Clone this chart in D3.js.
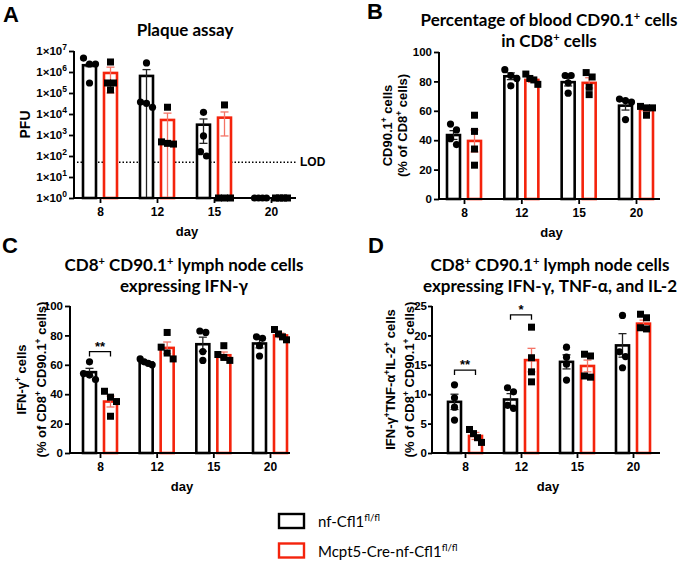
<!DOCTYPE html>
<html>
<head>
<meta charset="utf-8">
<script src="https://cdn.jsdelivr.net/npm/d3@7"></script>
<style>
  body { margin: 0; background: #fff; }
  svg text { font-family: "Liberation Sans", Arial, sans-serif; }
  .ttl { font-family: Lato, "Open Sans", sans-serif; font-weight: bold; font-size: 17px; }
  .axis text { font-weight: bold; font-size: 11.5px; fill: #000; }
  .axis line { stroke: #000; stroke-width: 1.8; }
  .lab { font-weight: bold; font-size: 12px; }
</style>
</head>
<body>
<svg id="chart" width="679" height="564"></svg>
<script>
var days = ["8", "12", "15", "20"];

// A - plaque assay (PFU, log axis)
var pfuTicks = [1, 10, 100, 1e3, 1e4, 1e5, 1e6, 1e7];
var pfuLOD = 50;
var pfuCtrlMean = [2.1e6, 6.5e5, 3.1e3, 1];
var pfuCtrlSem = [3e5, 6.5e5, 2.7e3, 0];
var pfuCtrlPts = [[4.6e6, 2.4e6, 2.4e6, 3e5], [2.7e6, 3.7e4, 3.2e4, 2.1e4], [1.2e4, 900, 160, 100], [1, 1, 1, 1]];
var pfuKoMean = [9e5, 5.2e3, 6.7e3, 1];
var pfuKoSem = [8e5, 5.8e3, 5.8e3, 0];
var pfuKoPts = [[3e6, 3e5, 3e5, 1.4e5], [2.1e4, 470, 400, 370], [2.7e4, 1, 1, 1], [1, 1, 1, 1]];

// B - blood CD90.1+ in CD8+
var bloodCtrlMean = [43.5, 83.5, 79.5, 63.5];
var bloodCtrlSem = [3, 2.3, 2.6, 3];
var bloodCtrlPts = [[51, 47, 41, 37], [88, 84, 82, 77], [84, 84, 79, 72], [68, 67, 66, 54]];
var bloodKoMean = [39.5, 81, 79, 61];
var bloodKoSem = [7.5, 1.6, 3.5, 1.3];
var bloodKoPts = [[57, 46, 34, 23], [85, 82, 81, 78], [86, 83, 76, 71], [63, 62, 62, 57]];

// C - IFN-g+ lymph node cells
var ifnCtrlMean = [55, 61.5, 74, 74.5];
var ifnCtrlSem = [2.6, 0.8, 4.8, 3];
var ifnCtrlPts = [[62, 54, 53, 50], [64, 62, 61, 60], [83, 82, 69, 63], [79, 78, 73, 66]];
var ifnKoMean = [35, 71.5, 66.5, 80];
var ifnKoSem = [3.7, 4, 2.2, 1.5];
var ifnKoPts = [[42, 38, 35, 25], [82, 72, 68, 64], [73, 67, 65, 63], [84, 81, 79, 77]];
var ifnSig = [{day: "8", y: 69, label: "**"}];

// D - IFN-g+ TNF-a+ IL-2+ lymph node cells
var triCtrlMean = [8.7, 9.1, 15.5, 18.3];
var triCtrlSem = [1.3, 1, 1.2, 2];
var triCtrlPts = [[11.6, 9.4, 7.8, 5.6], [11.1, 10.4, 8.1, 7.6], [18, 16.3, 15.1, 12.4], [23.4, 17.2, 16.4, 14.5]];
var triKoMean = [2.9, 15.8, 14.8, 22];
var triKoSem = [0.6, 2, 1, 0.6];
var triKoPts = [[4.0, 3.3, 2.6, 1.8], [21.4, 16.2, 13.8, 12.1], [16.8, 16.5, 13.1, 12.9], [23.6, 23, 21.3, 21.1]];
var triSig = [{day: "8", y: 14.1, label: "**"}, {day: "12", y: 23.5, label: "*"}];

var legendNames = ["nf-Cfl1{fl/fl}", "Mcpt5-Cre-nf-Cfl1{fl/fl}"];

var RED = "#f4230c";
var RED_ERR = "#f47466";
var svg = d3.select("#chart");

// text with {superscript} parts
function rich(sel, str, size) {
    str.split(/(\{[^}]*\})/).forEach(function(p) {
        if (!p) return;
        if (p[0] === "{") {
            sel.append("tspan").attr("baseline-shift", "super")
                .style("font-size", (size * 0.65) + "px").text(p.slice(1, -1));
        } else {
            sel.append("tspan").text(p);
        }
    });
}

function drawPanel(cfg) {
    var g = svg.append("g");
    var x = d3.scalePoint().domain(days).range([cfg.c0, cfg.c1]);
    var y = cfg.y;
    var off = 10.5, bw = 13;
    var base = y.range()[0];

    // LOD line
    if (cfg.lod) {
        g.append("line").attr("x1", cfg.x0 + 3).attr("x2", cfg.x1)
            .attr("y1", y(cfg.lod)).attr("y2", y(cfg.lod))
            .attr("stroke", "#000").attr("stroke-width", 1.4).attr("stroke-dasharray", "1.5,2");
        g.append("text").attr("class", "lab").attr("x", cfg.x1 + 4).attr("y", y(cfg.lod) + 4)
            .style("font-size", "12px").text("LOD");
    }

    var groups = [
        {mean: cfg.ctrlMean, sem: cfg.ctrlSem, pts: cfg.ctrlPts, dx: -off, col: "#000", err: "#222", shape: "circle"},
        {mean: cfg.koMean, sem: cfg.koSem, pts: cfg.koPts, dx: off, col: RED, err: RED_ERR, shape: "square"}
    ];

    groups.forEach(function(s) {
        g.append("g").selectAll("rect")
            .data(days)
            .enter()
            .append("rect")
            .attr("x", function(d) { return x(d) + s.dx - bw / 2; })
            .attr("width", bw)
            .attr("y", function(d, i) { return y(s.mean[i]); })
            .attr("height", function(d, i) { return base - y(s.mean[i]); })
            .attr("fill", "#fff")
            .attr("stroke", s.col)
            .attr("stroke-width", 2.6);
    });

    groups.forEach(function(s) {
        var eg = g.append("g").attr("stroke", s.err).attr("stroke-width", 1.3);
        days.forEach(function(d, i) {
            if (!s.sem[i]) return;
            var cx = x(d) + s.dx;
            var lo = Math.max(s.mean[i] - s.sem[i], y.domain()[0]);
            var hi = s.mean[i] + s.sem[i];
            eg.append("line").attr("x1", cx).attr("x2", cx).attr("y1", y(lo)).attr("y2", y(hi));
            eg.append("line").attr("x1", cx - 4).attr("x2", cx + 4).attr("y1", y(hi)).attr("y2", y(hi));
            if (lo > y.domain()[0]) {
                eg.append("line").attr("x1", cx - 4).attr("x2", cx + 4).attr("y1", y(lo)).attr("y2", y(lo));
            }
        });
    });

    // axes
    var yAxis = d3.axisLeft(y).tickValues(cfg.yTicks).tickSize(cfg.yTick || 5)
        .tickPadding(cfg.yPad || 2).tickSizeOuter(0);
    if (cfg.log) yAxis.tickFormat(function() { return ""; });
    var ya = g.append("g").attr("class", "axis")
        .attr("transform", "translate(" + cfg.x0 + ",0)")
        .call(yAxis);
    ya.select(".domain").remove();
    if (cfg.log) {
        ya.selectAll(".tick text").each(function(d) {
            var t = d3.select(this);
            t.append("tspan").text("1×10");
            t.append("tspan").attr("baseline-shift", "super").style("font-size", "8.5px")
                .text(Math.round(Math.log10(d)));
        });
    }
    g.append("line").attr("x1", cfg.x0).attr("x2", cfg.x0)
        .attr("y1", y.range()[1]).attr("y2", base + 1)
        .attr("stroke", "#000").attr("stroke-width", 2);

    var xa = g.append("g").attr("class", "axis")
        .attr("transform", "translate(0," + base + ")")
        .call(d3.axisBottom(x).tickSize(5).tickSizeOuter(0));
    xa.select(".domain").remove();
    xa.selectAll(".tick text").attr("y", 9).style("font-size", "12px");
    g.append("line").attr("x1", cfg.x0 - 1).attr("x2", cfg.x1)
        .attr("y1", base).attr("y2", base)
        .attr("stroke", "#000").attr("stroke-width", 2);

    // points
    groups.forEach(function(s) {
        var pg = g.append("g").attr("fill", "#000");
        days.forEach(function(d, i) {
            var vals = s.pts[i].slice().sort(function(a, b) { return b - a; });
            var py = vals.map(function(v) { return y(v); });
            // spread points that sit close together
            var clusters = [];
            py.forEach(function(p, k) {
                var last = clusters[clusters.length - 1];
                if (last && p - py[last[last.length - 1]] < 6) last.push(k);
                else clusters.push([k]);
            });
            clusters.forEach(function(c) {
                var step = c.length > 3 ? 4 : 6;
                c.forEach(function(k, j) {
                    var px = x(d) + s.dx + (j - (c.length - 1) / 2) * step;
                    if (s.shape === "circle") {
                        pg.append("circle").attr("cx", px).attr("cy", py[k]).attr("r", 3.6);
                    } else {
                        pg.append("rect").attr("x", px - 3.5).attr("y", py[k] - 3.5)
                            .attr("width", 7).attr("height", 7);
                    }
                });
            });
        });
    });

    // significance brackets
    (cfg.sig || []).forEach(function(s) {
        var xa1 = x(s.day) - off, xa2 = x(s.day) + off, yy = y(s.y);
        g.append("path")
            .attr("d", "M" + xa1 + "," + (yy + 5) + "V" + yy + "H" + xa2 + "V" + (yy + 5))
            .attr("fill", "none").attr("stroke", "#000").attr("stroke-width", 1.3);
        g.append("text").attr("class", "lab").attr("x", (xa1 + xa2) / 2).attr("y", yy - 1)
            .attr("text-anchor", "middle").style("font-size", "13px").text(s.label);
    });

    // labels
    g.append("text").attr("class", "lab").attr("x", (cfg.x0 + cfg.x1) / 2 + 2).attr("y", base + 38)
        .attr("text-anchor", "middle").style("font-size", "13px").text("day");

    var midY = (y.range()[0] + y.range()[1]) / 2;
    cfg.yLabel.forEach(function(l, k) {
        var t = g.append("text").attr("class", "lab")
            .attr("transform", "translate(" + cfg.yLabelX[k] + "," + midY + ") rotate(-90)")
            .attr("text-anchor", "middle").style("font-size", cfg.yLabelSize + "px");
        rich(t, l, cfg.yLabelSize);
    });

    cfg.title.forEach(function(l, k) {
        var t = g.append("text").attr("class", "ttl")
            .attr("x", cfg.titleX).attr("y", cfg.titleY + k * 21)
            .attr("text-anchor", "middle");
        rich(t, l, 17);
    });

    g.append("text").attr("x", cfg.letterX).attr("y", cfg.letterY)
        .style("font-weight", "bold").style("font-size", "22px").text(cfg.letter);
}

drawPanel({
    letter: "A", letterX: 3, letterY: 22,
    title: ["Plaque assay"], titleX: 185, titleY: 36,
    x0: 74, x1: 296, c0: 100, c1: 271,
    y: d3.scaleLog().domain([1, 1e7]).range([198, 51]), log: true, yTicks: pfuTicks,
    lod: pfuLOD,
    ctrlMean: pfuCtrlMean, ctrlSem: pfuCtrlSem, ctrlPts: pfuCtrlPts,
    koMean: pfuKoMean, koSem: pfuKoSem, koPts: pfuKoPts,
    yLabel: ["PFU"], yLabelX: [30], yLabelSize: 14
});

drawPanel({
    letter: "B", letterX: 367, letterY: 19,
    title: ["Percentage of blood CD90.1{+} cells", "in CD8{+} cells"], titleX: 549, titleY: 26,
    x0: 439, x1: 660, c0: 464, c1: 636,
    y: d3.scaleLinear().domain([0, 100]).range([199, 52]), yTicks: d3.range(0, 101, 20),
    ctrlMean: bloodCtrlMean, ctrlSem: bloodCtrlSem, ctrlPts: bloodCtrlPts,
    koMean: bloodKoMean, koSem: bloodKoSem, koPts: bloodKoPts,
    yLabel: ["CD90.1{+} cells", "(% of CD8{+} cells)"], yLabelX: [392, 407], yLabelSize: 13
});

drawPanel({
    letter: "C", letterX: 2, letterY: 253,
    title: ["CD8{+} CD90.1{+} lymph node cells", "expressing IFN-γ"], titleX: 184, titleY: 271,
    x0: 70, x1: 290, c0: 100, c1: 270,
    y: d3.scaleLinear().domain([0, 100]).range([453, 306]), yTicks: d3.range(0, 101, 20),
    ctrlMean: ifnCtrlMean, ctrlSem: ifnCtrlSem, ctrlPts: ifnCtrlPts,
    koMean: ifnKoMean, koSem: ifnKoSem, koPts: ifnKoPts,
    sig: ifnSig,
    yLabel: ["IFN-γ{+} cells", "(% of CD8{+} CD90.1{+} cells)"], yLabelX: [26, 46], yLabelSize: 13
});

drawPanel({
    letter: "D", letterX: 368, letterY: 253,
    title: ["CD8{+} CD90.1{+}  lymph node cells", "expressing IFN-γ, TNF-α, and IL-2"], titleX: 550, titleY: 271,
    x0: 432, x1: 660, c0: 465, c1: 633,
    y: d3.scaleLinear().domain([0, 25]).range([453, 306]), yTicks: d3.range(0, 26, 5),
    yTick: 4, yPad: 1,
    ctrlMean: triCtrlMean, ctrlSem: triCtrlSem, ctrlPts: triCtrlPts,
    koMean: triKoMean, koSem: triKoSem, koPts: triKoPts,
    sig: triSig,
    yLabel: ["IFN-γ{+}TNF-α{+}IL-2{+} cells", "(% of CD8{+} CD90.1{+} cells)"], yLabelX: [395, 414], yLabelSize: 13
});

// legend
var legend = svg.append("g").selectAll("g")
    .data(legendNames)
    .enter()
    .append("g")
    .attr("transform", function(d, i) { return "translate(279," + (514 + i * 29.5) + ")"; });
legend.append("rect").attr("width", 25).attr("height", 14)
    .attr("fill", "#fff").attr("stroke", function(d, i) { return i ? RED : "#000"; })
    .attr("stroke-width", 2.4);
legend.append("text").attr("x", 39).attr("y", 13)
    .style("font-family", "Lato, sans-serif").style("font-size", "15px")
    .each(function(d) { rich(d3.select(this), d, 15); });
</script>
</body>
</html>
